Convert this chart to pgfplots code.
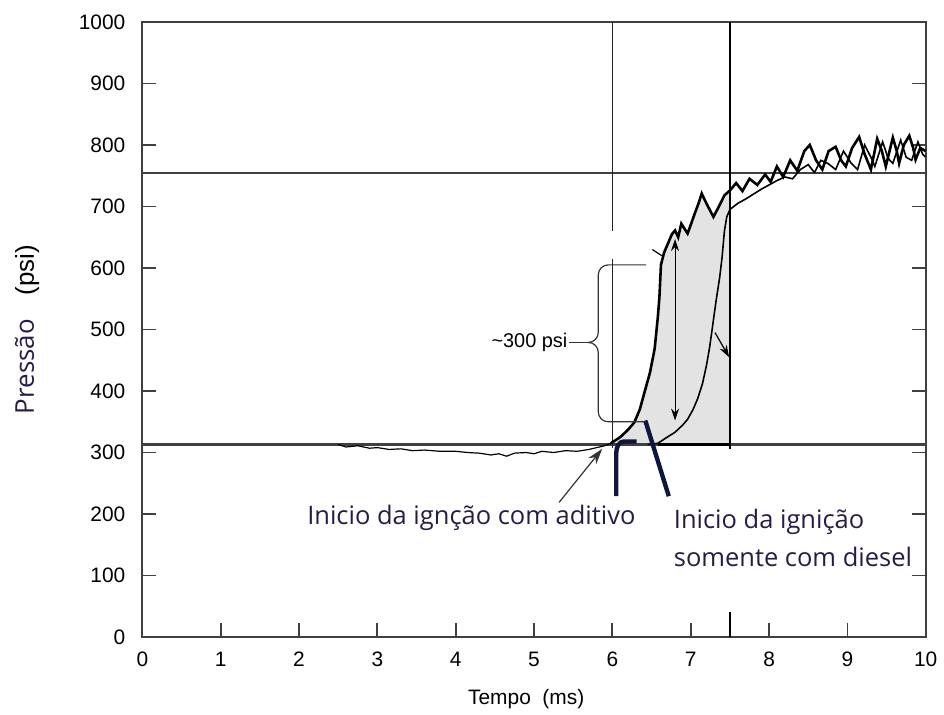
\documentclass[border=0pt]{standalone}
\usepackage{fontspec}
\setmainfont{Liberation Sans}
\newfontfamily\annot{Open Sans}
\usepackage{pgfplots}
\pgfplotsset{compat=1.18}
\usetikzlibrary{arrows.meta}
\definecolor{annotc}{RGB}{40,28,70}
\definecolor{navy}{RGB}{15,22,60}
\begin{document}
\begin{tikzpicture}
\begin{axis}[
 width=393.5pt, height=309pt, scale only axis,
 xmin=0, xmax=10, ymin=0, ymax=1000,
 xtick={0,1,...,10}, ytick={0,100,...,1000},
 tick align=inside, major tick length=7pt,
 xtick pos=left, ytick pos=both,
 axis line style={black!75, line width=0.9pt},
 every tick/.style={black!75, line width=0.9pt},
 tick label style={font=\fontsize{10.5}{12}\selectfont},
 /pgf/number format/assume math mode=true,
 /pgf/number format/1000 sep={},
 xticklabel style={yshift=-4pt},
 yticklabel style={xshift=-5pt},
 xlabel={Tempo\ \ (ms)},
 xlabel style={font=\fontsize{10.5}{12}\selectfont, at={(axis description cs:0.49,-0.1)}, anchor=center},
 ylabel={{\annot\fontsize{13}{15}\selectfont\color{annotc}Pressão}\hspace{12pt}{\fontsize{13}{15}\selectfont(psi)}},
 ylabel style={at={(axis description cs:-0.147,0.5)}, anchor=center},
]
% shaded region
\addplot[draw=none, fill=black!11] coordinates {
(5.98,313)(6.10,325)(6.20,337)(6.28,349)(6.35,370)(6.41,398)(6.48,430)(6.54,469)(6.58,520)(6.60,552)(6.62,605)(6.66,625)(6.71,640)(6.76,655)(6.80,661)(6.84,650)(6.88,672)(6.96,656)(7.00,670)(7.05,688)(7.10,705)(7.14,721)(7.20,705)(7.29,683)(7.36,700)(7.43,718)(7.50,726)(7.50,313)} -- cycle;
% reference lines
\addplot[black!75, line width=1pt] coordinates {(0,755)(10,755)};
\addplot[black!75, line width=1.2pt] coordinates {(0,313)(10,313)};
\addplot[black!85, line width=0.8pt] coordinates {(6,1000)(6,660)};
\addplot[black!85, line width=0.8pt] coordinates {(6,615)(6,307)};
\addplot[black, line width=0.8pt] coordinates {(7.5,1000)(7.5,726)};
\addplot[black, line width=1.4pt] coordinates {(7.5,305)(7.5,728)};
\addplot[black, line width=1.4pt] coordinates {(6.58,313)(7.5,313)};
\addplot[black, line width=1pt] coordinates {(7.5,0)(7.5,40)};
% curve B (diesel only)
\addplot[black, line width=0.8pt] coordinates {
(6.45,313)(6.58,315)(6.70,325)(6.80,333)(6.90,345)(6.96,354)(7.03,370)(7.09,388)(7.15,412)(7.20,441)(7.24,470)(7.27,497)(7.30,525)(7.33,552)(7.37,585)(7.40,617)(7.43,660)(7.46,683)(7.50,695)
(7.60,705)(7.70,712)(7.80,720)(7.90,728)(8.00,735)(8.10,742)(8.20,748)(8.30,745)(8.40,760)(8.50,768)(8.58,755)(8.66,775)(8.75,770)(8.85,760)(8.95,790)(9.05,770)(9.13,760)(9.22,800)(9.30,780)(9.35,765)(9.45,805)(9.52,778)(9.58,770)(9.68,808)(9.75,780)(9.82,775)(9.90,805)(9.96,785)(10.0,780)};
% curve A (with additive)
\addplot[black, line width=0.6pt] coordinates {
(2.50,313)(2.60,309)(2.75,311)(2.90,307)(3.00,308)(3.15,305)(3.30,306)(3.45,303)(3.60,304)(3.80,302)(4.00,302)(4.15,300)(4.30,299)(4.45,296)(4.55,298)(4.65,294)(4.75,299)(4.90,300)(5.00,298)(5.10,302)(5.25,300)(5.40,303)(5.55,302)(5.70,305)(5.80,308)(5.90,311)(5.98,315)};
\addplot[black, line width=1.3pt] coordinates {
(5.98,315)(6.10,325)(6.20,337)(6.28,349)(6.35,370)(6.41,398)(6.48,430)(6.54,469)(6.58,520)(6.60,552)(6.62,605)(6.66,625)(6.71,640)(6.76,655)(6.80,661)(6.84,650)(6.88,672)(6.96,656)(7.00,670)(7.05,688)(7.10,705)(7.14,721)(7.20,705)(7.29,683)(7.36,700)(7.43,718)(7.50,726)
(7.58,738)(7.66,725)(7.75,745)(7.85,735)(7.95,752)(8.02,740)(8.10,765)(8.18,748)(8.27,775)(8.36,758)(8.45,790)(8.52,800)(8.60,775)(8.68,760)(8.76,790)(8.85,797)(8.92,775)(8.98,765)(9.06,795)(9.15,813)(9.22,785)(9.30,760)(9.38,810)(9.44,790)(9.49,765)(9.58,812)(9.63,790)(9.66,770)(9.72,800)(9.79,815)(9.84,795)(9.87,776)(9.93,795)(10.0,790)};
% brace and annotations
\draw[black!80, line width=0.6pt, rounded corners=5pt] (axis cs:6.43,605) -- (axis cs:5.82,605) -- (axis cs:5.82,479) -- (axis cs:5.70,479);
\draw[black!80, line width=0.6pt, rounded corners=5pt] (axis cs:5.70,479) -- (axis cs:5.82,479) -- (axis cs:5.82,350) -- (axis cs:6.40,350);
\draw[black!80, line width=0.6pt] (axis cs:5.44,479) -- (axis cs:5.72,479);
\node[anchor=east, inner sep=0pt, font=\fontsize{10}{12}\selectfont] at (axis cs:5.43,479) {\textasciitilde 300 psi};
\draw[black, line width=0.5pt, {Stealth[length=6pt,width=4pt]}-{Stealth[length=6pt,width=4pt]}] (axis cs:6.80,647) -- (axis cs:6.80,352);
\draw[black, line width=0.6pt] (axis cs:6.51,630) -- (axis cs:6.63,620);
\draw[black, line width=0.6pt, -{Stealth[length=6pt,width=4pt]}] (axis cs:7.31,495) -- (axis cs:7.49,455);
\draw[black!80, line width=0.6pt, -{Stealth[length=8pt,width=5pt]}] (axis cs:5.32,219) -- (axis cs:5.87,306);
\draw[navy, line width=2.2pt] (axis cs:6.05,229) -- (axis cs:6.05,300) to[out=90,in=180] (axis cs:6.15,318) -- (axis cs:6.31,318);
\draw[navy, line width=2.2pt] (axis cs:6.42,352) -- (axis cs:6.72,229);
\node[anchor=west, inner sep=0pt, text=annotc, font=\annot\fontsize{12.8}{14}\selectfont] at (axis cs:2.10,193) {Inicio da ignção com aditivo};
\node[anchor=west, inner sep=0pt, text=annotc, font=\annot\fontsize{12.8}{14}\selectfont] at (axis cs:6.78,187) {Inicio da ignição};
\node[anchor=west, inner sep=0pt, text=annotc, font=\annot\fontsize{12.8}{14}\selectfont] at (axis cs:6.78,131) {somente com diesel};
\end{axis}
\path ([shift={(-71.5pt,-39pt)}]current axis.south west) rectangle ([shift={(7pt,11pt)}]current axis.north east);
\end{tikzpicture}
\end{document}
